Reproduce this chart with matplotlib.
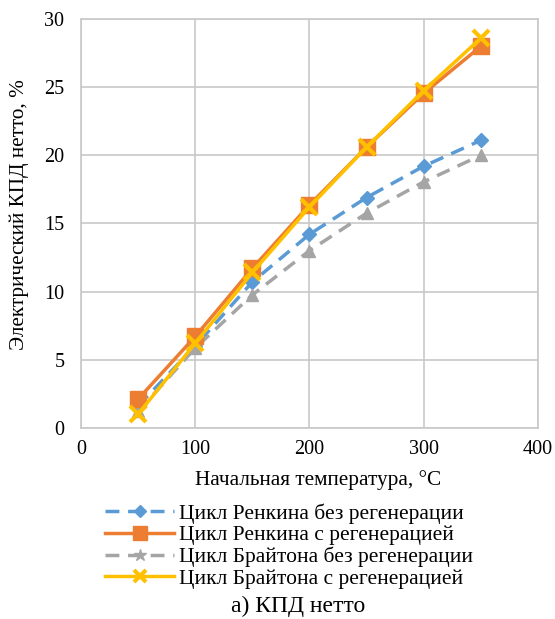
import numpy as np
import matplotlib.pyplot as plt
from matplotlib.lines import Line2D

plt.rcParams['font.family'] = ['Liberation Serif', 'DejaVu Serif']

# Начальная температура, °C
temps = [50, 100, 150, 200, 250, 300, 350]

# КПД нетто, %
renkin_bez = [1.6, 6.0, 10.7, 14.2, 16.9, 19.2, 21.1]
renkin_s = [2.1, 6.7, 11.7, 16.35, 20.6, 24.55, 28.0]
brayton_bez = [1.2, 5.85, 9.75, 13.0, 15.75, 18.05, 20.0]
brayton_s = [1.0, 6.2, 11.4, 16.2, 20.6, 24.75, 28.6]

labels = ["Цикл Ренкина без регенерации",
          "Цикл Ренкина с регенерацией",
          "Цикл Брайтона без регенерации",
          "Цикл Брайтона с регенерацией"]

fig = plt.figure(figsize=(5.55, 6.19), dpi=100)
ax = fig.add_axes([0.146, 0.309, 0.823, 0.660])

ax.plot(temps, renkin_bez, color='#5B9BD5', lw=2.5, ls=(0, (4, 2.5)),
        marker='D', ms=7, zorder=3)
ax.plot(temps, brayton_bez, color='#A5A5A5', lw=2.5, ls=(0, (4, 2.5)),
        marker='^', ms=9, zorder=3)
ax.plot(temps, renkin_s, color='#ED7D31', lw=2.5, marker='s', ms=11, zorder=4)
ax.plot(temps, brayton_s, color='#FFC000', lw=2.5, marker='x', ms=11,
        mew=3, zorder=5)

ax.set_xlim(0, 400)
ax.set_ylim(0, 30)
ax.set_xticks(np.arange(0, 401, 100))
ax.set_yticks(np.arange(0, 31, 5))
ax.grid(color='#C8C8C8', lw=1.2)
ax.set_axisbelow(True)
for s in ax.spines.values():
    s.set_color('#C8C8C8')
    s.set_linewidth(1.2)
ax.tick_params(length=0, labelsize=14.5)
ax.tick_params(axis='y', pad=12)
ax.tick_params(axis='x', pad=9)
ax.set_xlabel("Начальная температура, °C", fontsize=15.3)
ax.set_ylabel("Электрический КПД нетто, %", fontsize=15.3)
ax.xaxis.set_label_coords(0.519, -0.103)
ax.yaxis.set_label_coords(-0.114, 0.523)

handles = [
    Line2D([], [], color='#5B9BD5', lw=2.5, ls=(0, (4, 2.5)), marker='D', ms=6),
    Line2D([], [], color='#ED7D31', lw=2.5, marker='s', ms=10),
    Line2D([], [], color='#A5A5A5', lw=2.5, ls=(0, (4, 2.5)), marker='*', ms=9),
    Line2D([], [], color='#FFC000', lw=2.5, marker='x', ms=8, mew=3),
]
fig.legend(handles, labels, loc='center', bbox_to_anchor=(0.521, 0.118),
           frameon=False, fontsize=15.5, handlelength=3.2, handletextpad=0.23,
           labelspacing=0.07, borderpad=0)
fig.text(0.537, 0.004, "а) КПД нетто", ha='center', va='bottom', fontsize=17)

fig.savefig("out.png", dpi=100)
